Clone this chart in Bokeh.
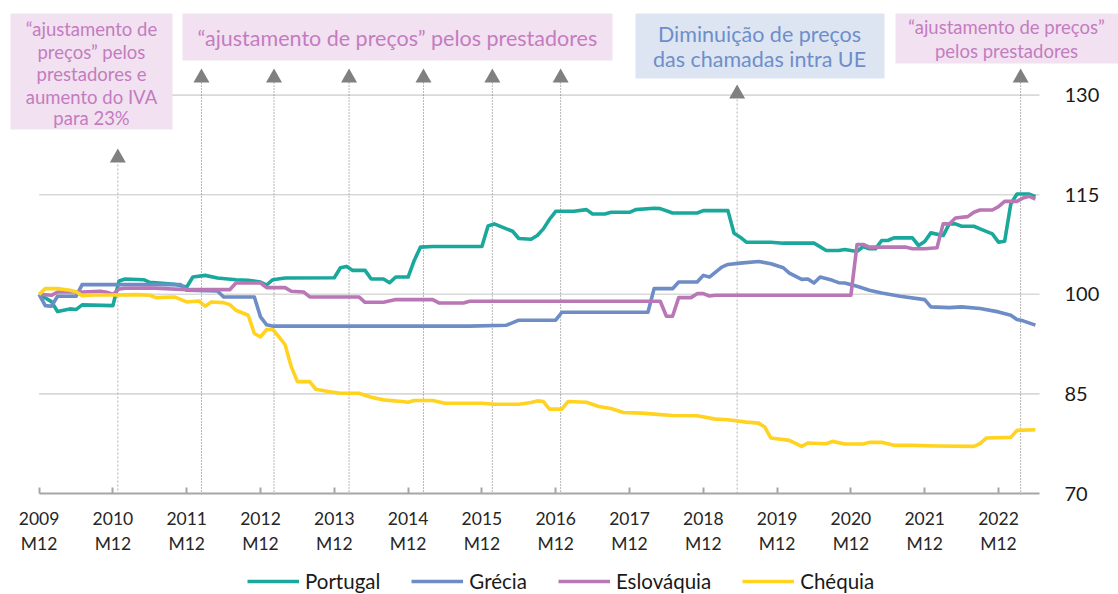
from bokeh.plotting import figure
from bokeh.models import Range1d, FixedTicker, Legend, LegendItem
from bokeh.embed import file_html
from bokeh.resources import INLINE
from bokeh.core.properties import value

# ---------------- data ----------------
tick_months = [0, 12, 24, 36, 48, 60, 72, 84, 96, 108, 120, 132, 144, 156]
tick_labels = ["2009\nM12", "2010\nM12", "2011\nM12", "2012\nM12", "2013\nM12",
               "2014\nM12", "2015\nM12", "2016\nM12", "2017\nM12", "2018\nM12",
               "2019\nM12", "2020\nM12", "2021\nM12", "2022\nM12"]
y_ticks = [70, 85, 100, 115, 130]

series_names = ["Portugal", "Grécia", "Eslováquia", "Chéquia"]

# month index (0 = 2009 M12) and index value
pt_m = [0, 2, 3, 5, 6, 7, 12, 13, 14, 17, 18, 22, 24, 25, 27, 29, 32, 34, 36, 37,
        38, 40, 48, 49, 50, 51, 53, 54, 56, 57, 58, 60, 61, 62, 64, 72, 73, 74, 76, 77,
        78, 80, 81, 82, 83, 84, 87, 89, 90, 92, 93, 96, 97, 100, 101, 103, 107, 108, 112, 113,
        114, 115, 119, 121, 126, 128, 130, 131, 133, 134, 135, 136, 137, 138, 139, 142, 143, 144, 145, 147,
        148, 149, 150, 152, 153, 155, 156, 157, 158, 159, 161, 162]
pt_v = [100, 98.9, 97.4, 97.8, 97.7, 98.4, 98.3, 102.0, 102.3, 102.2, 101.8, 101.5, 101.1, 102.6, 102.85, 102.45, 102.2, 102.1, 101.85, 101.4,
        102.2, 102.45, 102.5, 104.0, 104.2, 103.6, 103.6, 102.3, 102.3, 101.75, 102.6, 102.6, 105.1, 107.1, 107.2, 107.2, 110.3, 110.6, 109.85, 109.5,
        108.4, 108.3, 108.85, 109.85, 111.3, 112.5, 112.5, 112.75, 112.1, 112.1, 112.35, 112.35, 112.75, 112.95, 112.9, 112.25, 112.25, 112.6, 112.6, 109.2,
        108.6, 107.85, 107.85, 107.7, 107.7, 106.6, 106.6, 106.75, 106.45, 107.2, 106.85, 106.85, 108.1, 108.1, 108.5, 108.5, 107.35, 107.95, 109.25, 108.85,
        110.6, 110.6, 110.25, 110.25, 109.85, 109.1, 107.85, 108.0, 113.6, 115.1, 115.1, 114.7]

gr_m = [0, 1, 2, 3, 6, 7, 23, 24, 29, 30, 35, 36, 37, 38, 70, 76, 78, 84, 85, 99,
        100, 103, 104, 107, 108, 109, 111, 112, 114, 117, 119, 121, 122, 124, 125, 126, 127, 129, 130, 131,
        133, 135, 137, 140, 144, 145, 148, 150, 153, 156, 158, 159, 160, 162]
gr_v = [100, 98.3, 98.2, 99.7, 99.7, 101.45, 101.45, 100.6, 100.5, 99.6, 99.6, 96.6, 95.4, 95.2, 95.2, 95.35, 96.1, 96.1, 97.3, 97.3,
        100.85, 100.85, 101.85, 101.85, 102.85, 102.6, 104.1, 104.5, 104.7, 104.95, 104.6, 104.0, 103.2, 102.25, 102.3, 101.7, 102.6, 102.1, 101.75, 101.7,
        101.2, 100.6, 100.2, 99.7, 99.2, 98.1, 98.0, 98.1, 97.85, 97.35, 96.85, 96.2, 96.0, 95.35]

sk_m = [0, 2, 3, 7, 10, 11, 12, 13, 14, 18, 24, 31, 32, 36, 37, 40, 41, 43, 44, 52,
        53, 56, 58, 64, 65, 69, 70, 101, 102, 103, 104, 106, 107, 108, 109, 110, 132, 133, 134, 135,
        141, 142, 144, 146, 147, 148, 149, 151, 152, 153, 155, 156, 157, 159, 160, 161, 162]
sk_v = [100, 99.85, 100.35, 100.35, 100.45, 100.3, 100.0, 100.8, 100.9, 100.95, 100.7, 100.7, 101.7, 101.7, 101.0, 101.0, 100.45, 100.35, 99.6, 99.6,
        98.8, 98.8, 99.2, 99.2, 98.7, 98.7, 98.95, 98.95, 96.7, 96.7, 99.5, 99.5, 100.1, 100.1, 99.75, 99.85, 99.85, 107.5, 107.5, 107.1,
        107.1, 106.85, 106.85, 107.0, 110.6, 110.6, 111.5, 111.7, 112.35, 112.7, 112.7, 113.2, 114.0, 114.0, 114.5, 114.75, 114.35]

cz_m = [0, 1, 3, 5, 6, 7, 9, 12, 16, 18, 19, 22, 24, 26, 27, 28, 30, 31, 32, 34,
        35, 36, 37, 38, 39, 40, 41, 42, 44, 45, 47, 49, 52, 54, 56, 59, 60, 61, 64, 66,
        72, 74, 78, 80, 81, 82, 83, 85, 86, 89, 91, 93, 95, 98, 100, 103, 107, 110, 112, 115,
        117, 118, 119, 122, 124, 125, 128, 129, 131, 134, 135, 137, 139, 142, 146, 152, 153, 154, 158, 159,
        162]
cz_v = [100, 100.85, 100.85, 100.6, 100.4, 99.8, 99.9, 99.9, 99.95, 99.85, 99.5, 99.6, 98.85, 99.0, 98.2, 98.85, 98.75, 98.45, 97.6, 96.85,
        94.1, 93.6, 94.7, 94.7, 93.6, 92.4, 89.1, 86.85, 86.85, 85.7, 85.35, 85.1, 85.1, 84.5, 84.1, 83.85, 83.75, 84.0, 84.0, 83.6,
        83.6, 83.45, 83.45, 83.7, 83.95, 83.85, 82.7, 82.7, 83.85, 83.75, 83.1, 82.8, 82.2, 82.1, 81.95, 81.75, 81.7, 81.2, 81.1, 80.75,
        80.6, 80.0, 78.35, 78.0, 77.1, 77.6, 77.5, 77.85, 77.45, 77.45, 77.7, 77.7, 77.25, 77.25, 77.15, 77.1, 77.5, 78.35, 78.45, 79.5,
        79.6]

# events (month index)
events_adjust = [26.4, 38.2, 50.4, 62.5, 73.7, 84.8, 159.6]
events_iva = [12.8]
events_ue = [113.5]

# ---------------- layout helpers (page px -> data) ----------------
W, H = 1118, 594
X0_PX, PX_PER_MONTH = 38.6, 6.15
Y70_PX, PX_PER_UNIT = 493.0, 6.64


def mx(px):
    return (px - X0_PX) / PX_PER_MONTH


def vy(py):
    return 70 + (Y70_PX - py) / PX_PER_UNIT


COLORS = ["#1AA89C", "#6E8CC6", "#B977B6", "#FFD31F"]
PINK_BG, PINK_TX = "#F2E1F0", "#C47CC1"
BLUE_BG, BLUE_TX = "#DDE5F2", "#6E8ECA"
FONT = "Lato"

p = figure(width=W, height=H, output_backend="svg", toolbar_location=None,
           x_range=Range1d(mx(0), mx(W)), y_range=Range1d(vy(H), vy(0)),
           y_axis_location="right", min_border=0)
p.min_border_left = 0
p.min_border_right = 0
p.min_border_top = 0
p.min_border_bottom = 0
p.outline_line_color = None
p.xgrid.visible = False
p.ygrid.visible = False
p.background_fill_color = "white"
p.border_fill_color = "white"

x_end = mx(1039)

# horizontal gridlines
gy = [v for v in y_ticks if v > 70]
p.segment(x0=[0] * len(gy), x1=[x_end] * len(gy), y0=gy, y1=gy,
          line_color="#D9D9D9", line_width=1.6)

# annotation boxes
boxes = [(10, 172, 13, 129, PINK_BG), (182, 612, 13, 60, PINK_BG),
         (635, 884, 13, 78, BLUE_BG), (895, 1125, 13, 63, PINK_BG)]
p.quad(left=[mx(b[0]) for b in boxes], right=[mx(b[1]) for b in boxes],
       top=[vy(b[2]) for b in boxes], bottom=[vy(b[3]) for b in boxes],
       fill_color=[b[4] for b in boxes], line_color=None)


def notes(items, color, size):
    p.text(x=[mx(i[1]) for i in items], y=[vy(i[2]) for i in items],
           text=[i[0] for i in items], text_color=color, text_font=value(FONT),
           text_font_size=size, text_align="center", text_baseline="middle")


notes([("“ajustamento de", 91, 28), ("preços” pelos", 91, 51), ("prestadores e", 91, 73),
       ("aumento do IVA", 91, 96), ("para 23%", 91, 117)], PINK_TX, "18.5px")
notes([("“ajustamento de preços” pelos prestadores", 397, 37)], PINK_TX, "21.5px")
notes([("Diminuição de preços", 759, 33), ("das chamadas intra UE", 759, 58)], BLUE_TX, "21.5px")
notes([("“ajustamento de preços”", 1006, 26), ("pelos prestadores", 1006, 50)], PINK_TX, "18.5px")

# vertical event lines
p.segment(x0=events_adjust, x1=events_adjust, y0=[vy(82)] * len(events_adjust), y1=[70] * len(events_adjust),
          line_color="#6F6F6F", line_width=1, line_dash="1 2")
p.segment(x0=events_iva, x1=events_iva, y0=[vy(164)], y1=[70],
          line_color="#B0B0B0", line_width=1, line_dash="2 2")
p.segment(x0=events_ue, x1=events_ue, y0=[vy(99)], y1=[70],
          line_color="#B0B0B0", line_width=1, line_dash="2 2")

# arrows
p.scatter(x=events_adjust, y=[vy(77.3)] * len(events_adjust), marker="triangle", size=16,
          fill_color="#808080", line_color=None)
p.scatter(x=events_iva, y=[vy(157.3)], marker="triangle", size=16, fill_color="#808080", line_color=None)
p.scatter(x=events_ue, y=[vy(93.3)], marker="triangle", size=16, fill_color="#808080", line_color=None)

# data lines
renderers = []
for (mm, vv), c in zip([(pt_m, pt_v), (gr_m, gr_v), (sk_m, sk_v), (cz_m, cz_v)], COLORS):
    r = p.line(mm, vv, line_color=c, line_width=3.6, line_join="round")
    renderers.append(r)

# axes
xa = p.xaxis[0]
xa.fixed_location = 70
xa.ticker = FixedTicker(ticks=tick_months)
xa.major_label_overrides = {m: l for m, l in zip(tick_months, tick_labels)}
xa.bounds = (0, x_end)
xa.axis_line_color = "#A6A6A6"
xa.axis_line_width = 2
xa.major_tick_in = 6
xa.major_tick_out = 0
xa.major_tick_line_color = "#A6A6A6"
xa.major_tick_line_width = 2
xa.minor_tick_line_color = None
xa.major_label_standoff = 14
xa.major_label_text_font = FONT
xa.major_label_text_font_size = "17.5px"
xa.major_label_text_color = "#262626"

ya = p.yaxis[0]
ya.fixed_location = x_end
ya.ticker = FixedTicker(ticks=y_ticks)
ya.axis_line_color = None
ya.major_tick_line_color = None
ya.minor_tick_line_color = None
ya.major_label_standoff = 19
ya.major_label_text_font = FONT
ya.major_label_text_font_size = "20px"
ya.major_label_text_color = "#1A1A1A"

legend = Legend(items=[LegendItem(label=n, renderers=[r]) for n, r in zip(series_names, renderers)],
                orientation="horizontal", location=(247, 1),
                glyph_width=52, glyph_height=20, label_standoff=6, spacing=31,
                padding=0, margin=0, border_line_color=None, background_fill_alpha=0,
                label_text_font=FONT, label_text_font_size="20.5px", label_text_color="#1A1A1A")
p.add_layout(legend)

open("out.html", "w").write(file_html(p, INLINE))
